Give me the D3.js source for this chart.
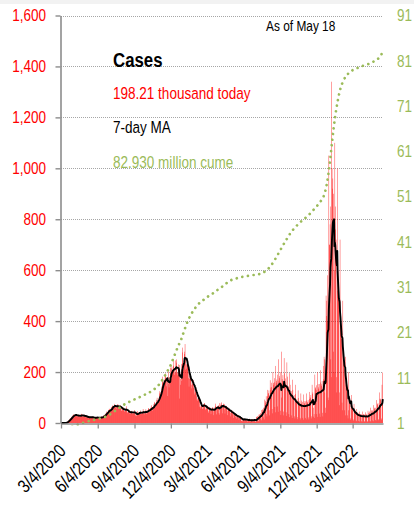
<!DOCTYPE html>
<html><head><meta charset="utf-8">
<script src="https://cdn.jsdelivr.net/npm/d3@7"></script>
<style>
html,body{margin:0;padding:0;background:#fff;}
svg{display:block;}
text{font-family:'Liberation Sans',Arial,sans-serif;}
</style></head><body>
<svg id="chart" width="414" height="510"></svg>
<script>
// ---------- DATA ----------
const startDate = "2020-03-04";   // first daily bar
// daily new cases (thousands), one week (Wed..Tue) per row
const dailyCases = [
0,0.1,0.1,0.1,0.1,0.2,0.3,
0.4,0.5,0.6,0.7,0.9,1.2,1.8,
2.8,4.7,5.9,7.1,9.3,10.2,11,
13,17,18,19,20,21,25,
26,29,32,34,27,29,30,
32,34,35,31,27,25,27,
29,31,32,31,26,27,25,
28,32,36,35,27,25,24,
27,30,33,29,27,23,22,
25,27,26,25,20,19,21,
21,27,25,24,19,22,21,
22,26,24,22,19,17,19,
19,22,24,24,20,20,20,
20,22,23,23,18,18,19,
21,23,25,26,20,19,23,
26,28,31,32,27,28,35,
37,39,45,44,40,41,47,
51,56,54,45,45,48,61,
60,63,69,66,61,62,65,
68,75,71,64,61,56,63,
70,72,74,66,57,55,63,
67,69,68,59,49,47,54,
56,58,61,55,47,44,47,
54,56,66,51,42,39,44,
47,45,48,45,36,36,39,
44,46,48,43,35,36,41,
42,45,51,41,31,27,27,
34,36,47,42,35,33,39,
39,44,49,42,35,36,41,
39,44,55,47,35,34,41,
43,46,54,49,35,38,44,
50,58,57,54,44,41,53,
59,65,70,56,48,58,61,
63,74,83,79,61,67,74,
80,91,99,88,75,84,92,
100,116,125,120,100,110,130,
143,160,182,166,137,146,161,
170,186,195,178,144,170,176,
181,106,203,154,140,159,180,
196,217,228,214,174,191,198,
221,225,245,215,189,197,199,
246,237,250,198,187,198,198,
230,194,96,228,150,173,199,
232,165,296,277,208,210,237,
271,280,310,257,209,213,231,
230,238,242,201,176,143,174,
185,192,190,170,136,150,153,
158,166,168,138,112,136,119,
127,123,134,105,91,87,97,
96,104,102,86,64,57,64,
70,71,80,70,55,56,72,
74,77,78,63,51,56,57,
67,68,66,57,40,46,56,
59,63,60,47,35,52,54,
59,62,60,46,31,53,57,
62,67,76,59,34,63,63,
66,70,66,39,33,78,63,
71,77,81,58,38,69,69,
76,73,74,53,37,63,62,
67,65,62,48,31,52,53,
58,56,54,40,26,46,43,
47,46,48,33,20,36,34,
38,37,38,23,17,28,27,
30,30,31,20,12,23,21,
24,21,24,9,8,6,20,
16,16,17,12,7,14,15,
15,15,16,9,5,13,13,
13,12,17,8,4,10,13,
13,14,15,7,3,13,13,
16,15,14,6,4,5,24,
24,21,27,10,7,33,27,
34,33,39,15,11,51,41,
52,54,60,22,14,92,62,
87,80,105,35,26,130,105,
115,118,128,50,30,168,130,
139,141,158,55,38,200,150,
157,160,176,63,42,224,158,
165,171,190,65,44,250,166,
184,176,200,48,32,100,280,
172,165,188,45,30,255,195,
161,154,175,42,28,238,182,
132,127,144,35,23,196,150,
115,110,125,30,20,170,130,
101,97,110,26,18,150,114,
86,83,94,23,15,128,98,
78,75,85,20,14,116,88,
76,73,83,20,13,112,86,
78,75,85,20,14,116,88,
83,79,90,22,14,122,94,
101,97,110,26,18,150,114,
120,25,60,35,20,190,140,
136,130,148,35,24,200,153,
140,134,153,37,24,207,159,
152,145,165,40,26,224,172,
260,250,120,40,60,500,420,
480,580,400,100,90,1050,700,
700,780,850,250,180,1340,1000,
920,960,900,280,200,600,1100,
850,760,720,180,120,1000,520,
600,520,500,120,70,720,380,
420,360,330,80,50,480,250,
280,230,210,50,30,260,150,
160,140,130,30,18,50,200,
95,80,80,18,12,110,60,
70,60,60,14,9,75,45,
50,43,45,10,7,55,35,
40,35,38,8,6,45,30,
35,32,35,7,5,45,28,
35,30,35,7,5,42,26,
36,33,30,7,5,48,30,
40,38,45,8,6,60,36,
50,46,50,10,7,70,45,
60,56,60,12,9,90,55,
75,72,78,15,11,120,70,
95,90,95,18,13,150,90,
198.21
];
// cumulative cases (millions), weekly from startDate, last value = May 18, 2022
const cumeValues = [
0,0.001,0.009,0.07,0.21,0.43,0.64,0.85,1.06,1.26,1.42,1.58,1.72,1.87,2.01,2.18,2.40,2.72,3.09,3.52,
3.98,4.43,4.85,5.22,5.55,5.85,6.14,6.41,6.68,6.96,7.26,7.56,7.90,8.30,8.80,9.46,10.3,11.3,12.4,13.5,
15.0,16.6,18.1,19.5,21.3,23.0,24.4,25.5,26.4,27.2,27.7,28.2,28.7,29.1,29.5,29.9,30.4,30.8,31.3,31.8,
32.2,32.6,32.8,33.0,33.2,33.3,33.4,33.5,33.6,33.7,33.8,33.9,34.1,34.5,35.0,35.7,36.6,37.6,38.7,39.8,
40.9,41.9,42.9,43.7,44.4,45.0,45.6,46.1,46.6,47.2,47.9,48.5,49.3,50.1,51.2,53.6,57.8,63.5,68.5,72.3,
75.0,76.6,77.7,78.3,78.8,79.2,79.4,79.7,79.9,80.1,80.3,80.6,80.9,81.3,81.8
];
const cumeFinal = {date: "2022-05-18", value: 82.93};
const leftTicks = [0,200,400,600,800,1000,1200,1400,1600];
const rightTicks = [1,11,21,31,41,51,61,71,81,91];
const xTickLabels = ["3/4/2020","6/4/2020","9/4/2020","12/4/2020","3/4/2021","6/4/2021","9/4/2021","12/4/2021","3/4/2022"];
const legendTexts = {title:"Cases", today:"198.21 thousand today", ma:"7-day MA", cume:"82.930 million cume", asof:"As of May 18"};

// ---------- CHART ----------
const NARROW = 0.82;  // narrow-font look (horizontal squeeze)
const svg = d3.select("#chart");
const L = 61, R = 383, T = 15.5, B = 423;
const parse = d3.utcParse("%Y-%m-%d");
const t0 = parse(startDate);
const dates = dailyCases.map((v,i)=>d3.utcDay.offset(t0,i));
const x = d3.scaleUtc().domain([t0, d3.utcDay.offset(t0, dailyCases.length)]).range([L,R]);
const yL = d3.scaleLinear().domain([0,1600]).range([B,T]);
const yR = d3.scaleLinear().domain([1,91]).range([B,T]);

svg.append("rect").attr("x",0).attr("y",0).attr("width",414).attr("height",4).attr("fill","#f2f2f2");

// gridlines
svg.append("g").selectAll("line").data(leftTicks.filter(d=>d>0)).join("line")
  .attr("x1",L).attr("x2",R)
  .attr("y1",d=>Math.round(yL(d))+0.5).attr("y2",d=>Math.round(yL(d))+0.5)
  .attr("stroke","#a6a6a6").attr("stroke-width",1).attr("stroke-dasharray","1 1");

// bars
const bw = (x(d3.utcDay.offset(t0,1)) - x(t0)) * 0.95;
svg.append("g").selectAll("rect").data(dailyCases).join("rect")
  .attr("x",(d,i)=>x(dates[i]))
  .attr("width",bw)
  .attr("y",d=>yL(d))
  .attr("height",d=>B-yL(d))
  .attr("fill","#ff0000");

// 7-day MA
const ma = dailyCases.map((v,i)=>d3.mean(dailyCases.slice(Math.max(0,i-6), i+1)));
svg.append("path").datum(ma)
  .attr("fill","none").attr("stroke","#000").attr("stroke-width",1.9).attr("stroke-linejoin","round")
  .attr("d", d3.line().x((d,i)=>x(dates[i])+bw/2).y(d=>yL(d)));

// cume dotted line
const cumePts = cumeValues.map((v,i)=>({date:d3.utcDay.offset(t0,7*i), value:v}));
cumePts.push({date:parse(cumeFinal.date), value:cumeFinal.value});
svg.append("clipPath").attr("id","clip").append("rect").attr("x",L).attr("y",0).attr("width",R-L+5).attr("height",B+2.5);
svg.append("path").datum(cumePts).attr("clip-path","url(#clip)")
  .attr("fill","none").attr("stroke","#9bbb59").attr("stroke-width",2.7)
  .attr("stroke-linecap","round").attr("stroke-dasharray","0.01 5.7")
  .attr("d", d3.line().curve(d3.curveMonotoneX).x(d=>x(d.date)).y(d=>yR(d.value)));

// left axis
const gl = svg.append("g").attr("transform",`translate(${L-0.5},0)`)
  .call(d3.axisLeft(yL).tickValues(leftTicks).tickFormat(d3.format(",")).tickSize(5).tickSizeOuter(0));
gl.select(".domain").attr("stroke","#8c8c8c").attr("stroke-width",1.6);
gl.selectAll(".tick line").attr("stroke","#8c8c8c").attr("stroke-width",1.4);
gl.selectAll("text").attr("fill","#ff0000").style("font-size","16.5px")
  .attr("x", -14.5/NARROW).attr("transform",`scale(${NARROW},1)`);

// right axis
const gr = svg.append("g").attr("transform",`translate(${R},0)`)
  .call(d3.axisRight(yR).tickValues(rightTicks).tickSize(0));
gr.select(".domain").remove();
gr.selectAll("text").attr("fill","#9bbb59").style("font-size","16.5px")
  .attr("x", 14/NARROW).attr("transform",`scale(${NARROW},1)`);

// x axis
const tickDates = xTickLabels.map(s=>d3.utcParse("%m/%d/%Y")(s));
const gx = svg.append("g").attr("transform",`translate(0,${B+0.5})`)
  .call(d3.axisBottom(x).tickValues(tickDates).tickFormat((d,i)=>xTickLabels[i]).tickSize(5).tickSizeOuter(0));
gx.select(".domain").attr("stroke","#8c8c8c").attr("stroke-width",1.6);
gx.selectAll(".tick line").attr("stroke","#8c8c8c").attr("stroke-width",1.3);
gx.selectAll("text").attr("fill","#000").style("font-size","18.5px")
  .attr("text-anchor","end").attr("dy","0.35em")
  .attr("transform",`translate(1,24) rotate(-45) scale(${NARROW},1)`).attr("x",0).attr("y",0);

// legend texts
function narrowText(px, py, str, size, color, bold){
  svg.append("text").attr("transform",`translate(${px},${py}) scale(${NARROW},1)`)
    .text(str).style("font-size",size+"px").style("font-weight",bold?"bold":"normal").attr("fill",color);
}
narrowText(113, 67, legendTexts.title, 20.5, "#000", true);
narrowText(113, 98.5, legendTexts.today, 16.5, "#ff0000");
narrowText(113, 133, legendTexts.ma, 16.5, "#000");
narrowText(113, 167.5, legendTexts.cume, 16.5, "#9bbb59");
narrowText(266, 30.5, legendTexts.asof, 14.5, "#000");
</script>
</body></html>
